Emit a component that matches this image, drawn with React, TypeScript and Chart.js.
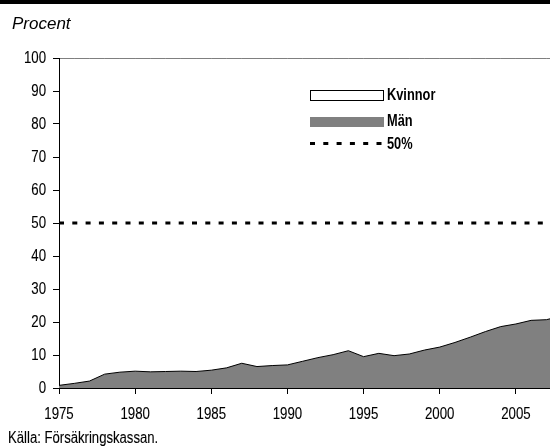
import React, { useEffect, useRef } from "react";
import { Chart, registerables } from "chart.js";

Chart.register(...registerables);

const years = [1975, 1976, 1977, 1978, 1979, 1980, 1981, 1982, 1983, 1984, 1985, 1986, 1987, 1988, 1989, 1990, 1991, 1992, 1993, 1994, 1995, 1996, 1997, 1998, 1999, 2000, 2001, 2002, 2003, 2004, 2005, 2006, 2007, 2008];
const men = [0.8, 1.4, 2.1, 4.2, 4.8, 5.1, 4.9, 5.0, 5.1, 5.0, 5.4, 6.1, 7.5, 6.5, 6.8, 7.0, 8.1, 9.2, 10.1, 11.3, 9.5, 10.5, 9.8, 10.3, 11.5, 12.4, 13.8, 15.4, 17.1, 18.6, 19.4, 20.5, 20.7, 21.8];
const women = men.map((m) => 100 - m);
const refValue = 50;
const xTicks = [1975, 1980, 1985, 1990, 1995, 2000, 2005];
const yTicks = [0, 10, 20, 30, 40, 50, 60, 70, 80, 90, 100];
const xMin = 1975;
const xMax = 2007.24;
const legendLabels = ["Kvinnor", "Män", "50%"];
const yTitle = "Procent";
const source = "Källa: Försäkringskassan.";

const SANS = "'Liberation Sans', Arial, sans-serif";
const GRAY = "#808080";

function narrowText(ctx: any, text: string, x: number, y: number, font: string, align: string, base: string, sx: number, weight: number) {
  ctx.save();
  ctx.font = font;
  ctx.textAlign = align;
  ctx.textBaseline = base;
  ctx.fillStyle = "#000";
  ctx.strokeStyle = "#000";
  ctx.lineWidth = weight;
  ctx.translate(x, y);
  ctx.scale(sx, 1);
  ctx.fillText(text, 0, 0);
  if (weight > 0) ctx.strokeText(text, 0, 0);
  ctx.restore();
}

const decorPlugin = {
  id: "decor",
  afterDraw(chart: any) {
    const ctx = chart.ctx;
    ctx.save();
    ctx.fillStyle = "#000";
    ctx.fillRect(0, 0, 550, 4);
    ctx.font = "italic 17px " + SANS;
    ctx.textBaseline = "alphabetic";
    ctx.textAlign = "left";
    ctx.fillText(yTitle, 12, 29);
    ctx.restore();

    const xs = chart.scales.x;
    const ys = chart.scales.y;
    xTicks.forEach((v) => {
      narrowText(ctx, String(v), xs.getPixelForValue(v), 419, "17px " + SANS, "center", "alphabetic", 0.78, 0.12);
    });
    yTicks.forEach((v) => {
      narrowText(ctx, String(v), 46, ys.getPixelForValue(v) + 0.5, "17px " + SANS, "right", "middle", 0.78, 0.12);
    });
    narrowText(ctx, source, 8, 443, "16px " + SANS, "left", "alphabetic", 0.82, 0.12);

    ctx.save();
    ctx.fillStyle = "#fff";
    ctx.strokeStyle = "#000";
    ctx.lineWidth = 1;
    ctx.fillRect(310.5, 90.5, 73, 10);
    ctx.strokeRect(310.5, 90.5, 73, 10);
    ctx.fillStyle = GRAY;
    ctx.fillRect(310, 117, 74, 10);
    ctx.strokeStyle = "#000";
    ctx.lineWidth = 3;
    ctx.setLineDash([5, 8.3]);
    ctx.beginPath();
    ctx.moveTo(310, 143.5);
    ctx.lineTo(386, 143.5);
    ctx.stroke();
    ctx.restore();
    narrowText(ctx, legendLabels[0], 387, 96, "bold 16px " + SANS, "left", "middle", 0.8, 0);
    narrowText(ctx, legendLabels[1], 387, 122, "bold 16px " + SANS, "left", "middle", 0.8, 0);
    narrowText(ctx, legendLabels[2], 387, 145, "bold 16px " + SANS, "left", "middle", 0.8, 0);
  },
};

export default function App() {
  const ref = useRef<HTMLCanvasElement | null>(null);
  useEffect(() => {
    if (!ref.current) return;
    const chart = new Chart(ref.current, {
      type: "line",
      data: {
        datasets: [
          {
            label: legendLabels[2],
            data: [{ x: 1975, y: refValue }, { x: 2008, y: refValue }],
            borderColor: "#000",
            borderWidth: 3,
            borderDash: [5, 8.3],
            pointRadius: 0,
            fill: false,
            stack: "ref",
            order: 0,
          },
          {
            label: legendLabels[1],
            data: years.map((y, i) => ({ x: y, y: men[i] })),
            borderColor: "#000",
            borderWidth: 1,
            backgroundColor: GRAY,
            pointRadius: 0,
            fill: "origin",
            tension: 0,
            stack: "share",
            order: 1,
          },
          {
            label: legendLabels[0],
            data: years.map((y, i) => ({ x: y, y: women[i] })),
            borderColor: "#000",
            borderWidth: 1,
            backgroundColor: "#fff",
            pointRadius: 0,
            fill: false,
            tension: 0,
            stack: "share",
            order: 2,
          },
        ],
      } as any,
      options: {
        responsive: false,
        animation: false,
        maintainAspectRatio: false,
        layout: { padding: { top: 58, left: 0, right: 0, bottom: 0 } },
        plugins: { legend: { display: false }, tooltip: { enabled: false } },
        scales: {
          x: {
            type: "linear",
            min: xMin,
            max: xMax,
            afterBuildTicks: (s: any) => {
              s.ticks = xTicks.map((v) => ({ value: v }));
            },
            afterFit: (s: any) => {
              s.height = 60;
            },
            grid: { drawOnChartArea: false, drawTicks: true, tickLength: 6, color: "#000" },
            border: { display: true, color: "#000", width: 1 },
            ticks: { display: false },
          },
          y: {
            stacked: true,
            min: 0,
            max: 100,
            afterBuildTicks: (s: any) => {
              s.ticks = yTicks.map((v) => ({ value: v }));
            },
            afterFit: (s: any) => {
              s.width = 59;
            },
            grid: { drawOnChartArea: false, drawTicks: true, tickLength: 6, color: "#000" },
            border: { display: true, color: "#000", width: 1 },
            ticks: { display: false },
          },
        },
      } as any,
      plugins: [decorPlugin],
    });
    return () => chart.destroy();
  }, []);
  return (
    <div style={{ position: "absolute", left: 0, top: 0, width: 550, height: 448, background: "#fff" }}>
      <canvas ref={ref} width={550} height={448} style={{ display: "block" }} />
    </div>
  );
}
